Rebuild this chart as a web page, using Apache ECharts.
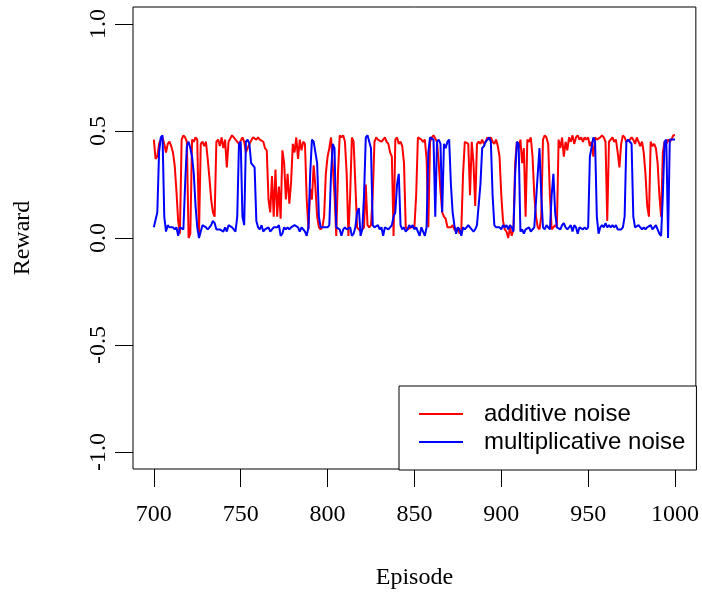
<!DOCTYPE html>
<html>
<head>
<meta charset="utf-8">
<script src="https://cdn.jsdelivr.net/npm/echarts@6/dist/echarts.min.js"></script>
<style>
html,body{margin:0;padding:0;background:#fff;}
#chart{width:702px;height:595px;}
</style>
</head>
<body>
<div id="chart"></div>
<script>
// Episodes 700..1000 (one value per episode)
const firstEpisode = 700;
const xTicks = [700, 750, 800, 850, 900, 950, 1000];
const yTicks = [-1.0, -0.5, 0.0, 0.5, 1.0];
const seriesNames = ["additive noise", "multiplicative noise"];

const additiveNoise = [
0.46,0.37,0.38,0.44,0.46,0.47,0.44,0.40,0.44,0.45,
0.43,0.40,0.34,0.22,0.08,0.02,0.46,0.48,0.47,0.45,
0.00,0.02,0.46,0.45,0.47,0.46,0.02,0.44,0.45,0.43,
0.45,0.37,0.28,0.18,0.12,0.10,0.45,0.46,0.43,0.47,
0.42,0.46,0.33,0.45,0.45,0.48,0.47,0.46,0.46,0.44,
0.44,0.47,0.45,0.40,0.42,0.44,0.44,0.47,0.47,0.46,
0.47,0.46,0.46,0.45,0.42,0.41,0.18,0.12,0.29,0.10,
0.32,0.10,0.24,0.09,0.41,0.35,0.18,0.30,0.16,0.26,
0.44,0.40,0.47,0.37,0.46,0.41,0.45,0.44,0.18,0.04,
0.23,0.18,0.34,0.24,0.10,0.05,0.04,0.05,0.10,0.30,
0.38,0.42,0.47,0.47,0.20,0.01,0.30,0.48,0.47,0.48,
0.45,0.30,0.01,0.20,0.47,0.45,0.25,0.05,0.04,0.03,
0.04,0.05,0.25,0.06,0.05,0.06,0.20,0.45,0.47,0.46,
0.46,0.45,0.46,0.47,0.45,0.44,0.40,0.38,0.01,0.46,
0.47,0.44,0.45,0.43,0.35,0.05,0.04,0.04,0.05,0.05,
0.05,0.20,0.47,0.47,0.46,0.45,0.46,0.37,0.05,0.45,
0.47,0.48,0.48,0.45,0.35,0.22,0.12,0.10,0.09,0.05,
0.05,0.05,0.06,0.04,0.03,0.05,0.02,0.04,0.30,0.45,
0.45,0.44,0.20,0.45,0.35,0.15,0.44,0.45,0.44,0.46,
0.44,0.45,0.47,0.46,0.47,0.45,0.44,0.46,0.43,0.38,
0.20,0.08,0.04,0.03,0.00,0.05,0.01,0.04,0.35,0.45,
0.42,0.46,0.35,0.42,0.10,0.46,0.45,0.47,0.38,0.20,
0.10,0.05,0.04,0.10,0.46,0.48,0.47,0.44,0.20,0.04,
0.05,0.06,0.05,0.46,0.42,0.47,0.38,0.45,0.41,0.47,
0.45,0.48,0.44,0.47,0.48,0.46,0.47,0.45,0.47,0.46,
0.47,0.43,0.45,0.38,0.47,0.46,0.46,0.47,0.48,0.47,
0.45,0.08,0.45,0.46,0.47,0.45,0.46,0.40,0.33,0.44,
0.48,0.47,0.45,0.45,0.46,0.47,0.46,0.44,0.47,0.45,
0.43,0.45,0.40,0.30,0.15,0.10,0.45,0.43,0.44,0.42,
0.35,0.20,0.10,0.40,0.45,0.44,0.46,0.45,0.46,0.48,
0.48
];

const multiplicativeNoise = [
0.05,0.05,0.12,0.40,0.47,0.48,0.10,0.03,0.06,0.05,
0.05,0.05,0.04,0.05,0.01,0.05,0.05,0.04,0.25,0.43,
0.45,0.42,0.38,0.30,0.15,0.05,0.00,0.03,0.06,0.06,
0.05,0.04,0.05,0.06,0.08,0.07,0.04,0.04,0.04,0.04,
0.03,0.05,0.03,0.06,0.06,0.05,0.04,0.03,0.10,0.44,
0.45,0.10,0.06,0.45,0.46,0.44,0.35,0.35,0.33,0.08,
0.05,0.04,0.06,0.03,0.04,0.04,0.05,0.03,0.04,0.05,
0.05,0.05,0.06,0.01,0.02,0.05,0.04,0.05,0.04,0.05,
0.05,0.06,0.06,0.05,0.03,0.05,0.04,0.03,0.01,0.05,
0.30,0.46,0.45,0.40,0.35,0.10,0.05,0.05,0.05,0.05,
0.05,0.06,0.30,0.44,0.42,0.05,0.05,0.04,0.01,0.04,
0.05,0.04,0.04,0.05,0.01,0.02,0.05,0.12,0.14,0.01,
0.04,0.20,0.47,0.48,0.45,0.42,0.06,0.05,0.05,0.06,
0.04,0.05,0.01,0.05,0.05,0.04,0.05,0.06,0.10,0.12,
0.25,0.30,0.06,0.04,0.05,0.03,0.04,0.06,0.05,0.06,
0.04,0.05,0.05,0.01,0.05,0.05,0.01,0.05,0.40,0.47,
0.47,0.46,0.10,0.45,0.46,0.44,0.12,0.44,0.42,0.45,
0.46,0.25,0.12,0.06,0.02,0.05,0.04,0.01,0.05,0.04,
0.05,0.06,0.05,0.05,0.03,0.04,0.06,0.06,0.25,0.42,
0.43,0.45,0.46,0.47,0.45,0.20,0.06,0.05,0.05,0.05,
0.04,0.06,0.05,0.06,0.04,0.06,0.05,0.03,0.30,0.45,
0.44,0.03,0.04,0.02,0.04,0.04,0.05,0.03,0.04,0.05,
0.05,0.30,0.42,0.20,0.05,0.04,0.06,0.05,0.04,0.20,
0.30,0.12,0.05,0.05,0.04,0.06,0.07,0.05,0.04,0.05,
0.06,0.03,0.06,0.05,0.02,0.05,0.05,0.04,0.05,0.04,
0.05,0.38,0.38,0.47,0.45,0.10,0.02,0.05,0.06,0.05,
0.07,0.05,0.06,0.05,0.06,0.05,0.06,0.04,0.04,0.04,
0.05,0.10,0.45,0.46,0.45,0.44,0.10,0.05,0.05,0.06,
0.05,0.04,0.05,0.04,0.05,0.05,0.06,0.04,0.05,0.06,
0.04,0.02,0.01,0.20,0.45,0.46,0.00,0.46,0.46,0.46,
0.46
];

function toPairs(vals) {
  return vals.map((v, i) => [firstEpisode + i, v]);
}

const serif = 'Liberation Serif';
const chart = echarts.init(document.getElementById('chart'), null, {renderer: 'canvas'});
chart.setOption({
  animation: false,
  backgroundColor: '#fff',
  grid: {left: 133, right: 6, top: 7, bottom: 125, show: true, borderColor: '#000', borderWidth: 1, backgroundColor: 'transparent'},
  xAxis: {
    type: 'value', min: 688, max: 1012,
    name: 'Episode', nameLocation: 'middle', nameGap: 97,
    nameTextStyle: {fontFamily: serif, fontSize: 24, color: '#000'},
    axisLine: {show: false, onZero: false},
    splitLine: {show: false},
    axisTick: {show: true, inside: false, length: 18, lineStyle: {color: '#000', width: 1}, customValues: xTicks},
    axisLabel: {fontFamily: serif, fontSize: 24, color: '#000', margin: 34, customValues: xTicks, formatter: v => String(v)}
  },
  yAxis: {
    type: 'value', min: -1.08, max: 1.08,
    name: 'Reward', nameLocation: 'middle', nameGap: 98, nameRotate: 90,
    nameTextStyle: {fontFamily: serif, fontSize: 24, color: '#000'},
    axisLine: {show: false, onZero: false},
    splitLine: {show: false},
    axisTick: {show: true, length: 18, lineStyle: {color: '#000', width: 1}, customValues: yTicks},
    axisLabel: {fontFamily: serif, fontSize: 24, color: '#000', margin: 22, rotate: 90, align: 'center', verticalAlign: 'bottom', customValues: yTicks, formatter: v => Number(v).toFixed(1)}
  },
  legend: {
    data: seriesNames,
    orient: 'vertical',
    left: 399, top: 386,
    padding: [14, 11, 14, 20],
    itemGap: 0,
    itemWidth: 44, itemHeight: 2,
    icon: 'rect',
    borderColor: '#000', borderWidth: 1,
    backgroundColor: '#fff',
    textStyle: {fontFamily: 'Liberation Sans', fontSize: 24, color: '#000', lineHeight: 28, padding: [0, 0, 0, 16]}
  },
  series: [
    {name: seriesNames[0], type: 'line', data: toPairs(additiveNoise), showSymbol: false, symbol: 'none',
     lineStyle: {color: '#ff0000', width: 2}, itemStyle: {color: '#ff0000'}, z: 2},
    {name: seriesNames[1], type: 'line', data: toPairs(multiplicativeNoise), showSymbol: false, symbol: 'none',
     lineStyle: {color: '#0000ff', width: 2}, itemStyle: {color: '#0000ff'}, z: 3}
  ]
});
</script>
</body>
</html>
